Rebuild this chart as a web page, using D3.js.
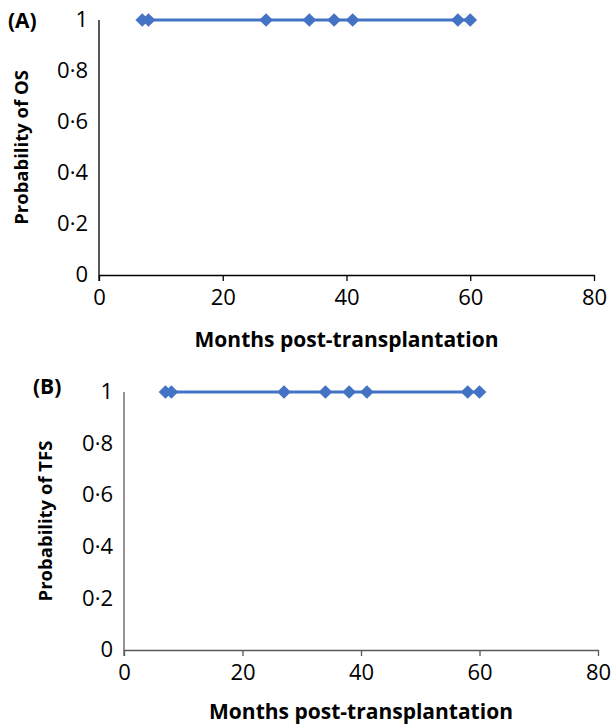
<!DOCTYPE html>
<html>
<head>
<meta charset="utf-8">
<script src="https://cdn.jsdelivr.net/npm/d3@7"></script>
<style>
  body { margin: 0; background: #fff; }
  svg text { font-family: "Open Sans", "Liberation Sans", sans-serif; }
  .tick text { font-size: 22px; fill: #000; }
  .axis-title { font-size: 21px; font-weight: bold; }
  .y-title { font-size: 18.5px; font-weight: bold; }
  .panel-label { font-size: 21px; font-weight: bold; }
</style>
</head>
<body>
<svg id="chart" width="611" height="725"></svg>
<script>
      // months of each censored patient (same for both panels)
      var months = [7, 8, 27, 34, 38, 41, 58, 60];
      var probOS = [1, 1, 1, 1, 1, 1, 1, 1];
      var probTFS = [1, 1, 1, 1, 1, 1, 1, 1];
      var xTicks = [0, 20, 40, 60, 80];
      var yTicks = [0, 0.2, 0.4, 0.6, 0.8, 1];

      var svg = d3.select("#chart");

      var panels = [
        {label: "(A)", ytitle: "Probability of OS", values: probOS,
         left: 99, right: 594, top: 20, bottom: 275, axisColor: "#000",
         labelX: 8, labelY: 28, ytitleX: 28, xtitleY: 347},
        {label: "(B)", ytitle: "Probability of TFS", values: probTFS,
         left: 124, right: 598, top: 392, bottom: 650, axisColor: "#595959",
         labelX: 33, labelY: 394, ytitleX: 52, xtitleY: 719}
      ];

      panels.forEach(function(p) {
        var data = months.map(function(m, i) { return {x: m, y: p.values[i]}; });

        var xScale = d3.scaleLinear().domain([0, 80]).range([p.left, p.right]);
        var yScale = d3.scaleLinear().domain([0, 1]).range([p.bottom, p.top]);

        // y axis (no tick marks)
        var yAxis = d3.axisLeft(yScale).tickValues(yTicks).tickSize(0).tickPadding(11)
            .tickFormat(function(d) { return d === 0 || d === 1 ? String(d) : String(d).replace(".", "·"); });
        var gy = svg.append("g")
            .attr("transform", "translate(" + p.left + ",0)")
            .call(yAxis);
        gy.select(".domain").remove();
        gy.selectAll(".tick text").attr("dy", "0.3em");

        // x axis
        var xAxis = d3.axisBottom(xScale).tickValues(xTicks).tickSize(6).tickSizeOuter(0).tickPadding(8);
        var gx = svg.append("g")
            .attr("transform", "translate(0," + p.bottom + ")")
            .call(xAxis);
        gx.select(".domain").attr("stroke", p.axisColor).attr("stroke-width", 1.3);
        gx.selectAll(".tick line").attr("stroke", p.axisColor).attr("stroke-width", 1.3);

        // vertical axis line
        svg.append("line")
            .attr("x1", p.left).attr("x2", p.left)
            .attr("y1", p.top).attr("y2", p.bottom + 6)
            .attr("stroke", p.axisColor).attr("stroke-width", 1.3);

        // the survival line
        var line = d3.line()
            .x(function(d) { return xScale(d.x); })
            .y(function(d) { return yScale(d.y); });
        svg.append("path")
            .datum(data)
            .attr("fill", "none")
            .attr("stroke", "#4472C4")
            .attr("stroke-width", 3)
            .attr("d", line);

        svg.append("g")
            .selectAll("path")
            .data(data)
            .enter()
            .append("path")
            .attr("d", d3.symbol().type(d3.symbolDiamond2).size(120))
            .attr("transform", function(d) {
                return "translate(" + xScale(d.x) + "," + yScale(d.y) + ")";
            })
            .attr("fill", "#4472C4");

        // titles
        svg.append("text")
            .attr("class", "axis-title")
            .attr("x", (p.left + p.right) / 2)
            .attr("y", p.xtitleY)
            .attr("text-anchor", "middle")
            .text("Months post-transplantation");

        svg.append("text")
            .attr("class", "y-title")
            .attr("transform", "translate(" + p.ytitleX + "," + ((p.top + p.bottom) / 2) + ") rotate(-90)")
            .attr("text-anchor", "middle")
            .text(p.ytitle);

        svg.append("text")
            .attr("class", "panel-label")
            .attr("x", p.labelX)
            .attr("y", p.labelY)
            .text(p.label);
      });
</script>
</body>
</html>
